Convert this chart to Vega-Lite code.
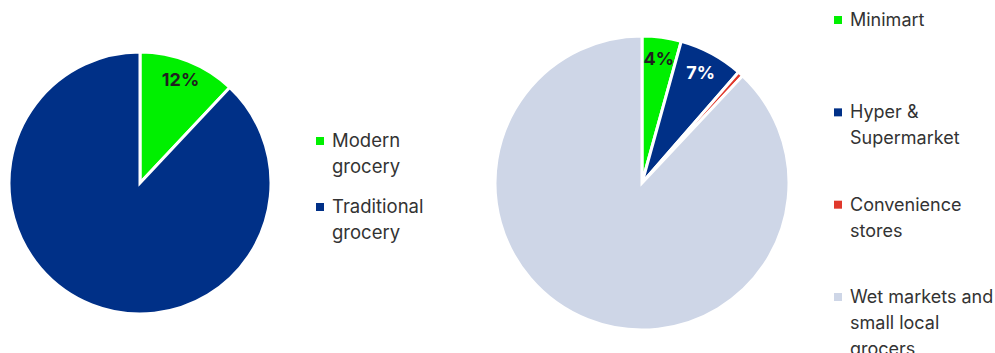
{
  "$schema": "https://vega.github.io/schema/vega-lite/v6.json",
  "padding": 0,
  "spacing": 40,
  "bounds": "flush",
  "background": "white",
  "config": {"view": {"stroke": null}, "font": "Inter"},
  "datasets": {
    "left": [
      {"cat": "Modern grocery", "label": "Modern\ngrocery", "share": 12, "k": 1, "pct": "12%"},
      {"cat": "Traditional grocery", "label": "Traditional\ngrocery", "share": 88, "k": 2, "pct": ""}
    ],
    "right": [
      {"cat": "Minimart", "label": "Minimart", "share": 4.3, "k": 1, "pct": "4%"},
      {"cat": "Hyper & Supermarket", "label": "Hyper &\nSupermarket", "share": 7.1, "k": 2, "pct": "7%"},
      {"cat": "Convenience stores", "label": "Convenience\nstores", "share": 0.6, "k": 3, "pct": ""},
      {"cat": "Wet markets and small local grocers", "label": "Wet markets and\nsmall local\ngrocers", "share": 88.0, "k": 4, "pct": ""}
    ]
  },
  "resolve": {"scale": {"color": "independent", "x": "independent", "y": "independent", "theta": "independent"}},
  "hconcat": [
    {
      "width": 280, "height": 366,
      "data": {"name": "left"},
      "layer": [
        {
          "mark": {"type": "arc", "radius": 131, "stroke": "white", "strokeWidth": 3},
          "encoding": {
            "theta": {"field": "share", "type": "quantitative", "stack": true},
            "order": {"field": "k", "type": "quantitative"},
            "color": {"field": "cat", "type": "nominal", "legend": null,
              "scale": {"domain": ["Modern grocery", "Traditional grocery"], "range": ["#00F000", "#003087"]}}
          }
        },
        {
          "mark": {"type": "text", "radius": 110, "fontSize": 18, "fontWeight": "bold"},
          "encoding": {
            "theta": {"field": "share", "type": "quantitative", "stack": true},
            "order": {"field": "k", "type": "quantitative"},
            "text": {"field": "pct", "type": "nominal"},
            "color": {"value": "#1f1f1f"}
          }
        }
      ]
    },
    {
      "width": 126, "height": 366,
      "data": {"name": "left"},
      "layer": [
        {
          "mark": {"type": "square", "size": 64, "opacity": 1},
          "encoding": {
            "x": {"datum": 0, "type": "quantitative", "scale": {"domain": [0, 1]}, "axis": null},
            "y": {"field": "cat", "type": "nominal", "sort": ["Modern grocery", "Traditional grocery"], "scale": {"type": "point", "padding": 0, "range": [141, 207]}, "axis": null},
            "color": {"field": "cat", "type": "nominal", "legend": null,
              "scale": {"domain": ["Modern grocery", "Traditional grocery"], "range": ["#00F000", "#003087"]}}
          }
        },
        {
          "mark": {"type": "text", "align": "left", "baseline": "alphabetic", "dx": 12, "dy": 6, "lineBreak": "\n", "lineHeight": 26, "fontSize": 18.5, "color": "#333333"},
          "encoding": {
            "x": {"datum": 0, "type": "quantitative", "scale": {"domain": [0, 1]}, "axis": null},
            "y": {"field": "cat", "type": "nominal", "sort": ["Modern grocery", "Traditional grocery"], "scale": {"type": "point", "padding": 0, "range": [141, 207]}, "axis": null},
            "text": {"field": "label", "type": "nominal"}
          }
        }
      ]
    },
    {
      "width": 312, "height": 366,
      "data": {"name": "right"},
      "layer": [
        {
          "mark": {"type": "arc", "radius": 147, "stroke": "white", "strokeWidth": 3},
          "encoding": {
            "theta": {"field": "share", "type": "quantitative", "stack": true},
            "order": {"field": "k", "type": "quantitative"},
            "color": {"field": "cat", "type": "nominal", "legend": null,
              "scale": {"domain": ["Minimart", "Hyper & Supermarket", "Convenience stores", "Wet markets and small local grocers"], "range": ["#00F000", "#003087", "#E0382C", "#CED6E7"]}}
          }
        },
        {
          "mark": {"type": "text", "radius": 124, "fontSize": 18, "fontWeight": "bold"},
          "encoding": {
            "theta": {"field": "share", "type": "quantitative", "stack": true},
            "order": {"field": "k", "type": "quantitative"},
            "text": {"field": "pct", "type": "nominal"},
            "color": {"condition": {"test": "datum.cat === 'Hyper & Supermarket'", "value": "white"}, "value": "#1f1f1f"}
          }
        }
      ]
    },
    {
      "width": 160, "height": 366,
      "data": {"name": "right"},
      "layer": [
        {
          "mark": {"type": "square", "size": 64, "opacity": 1},
          "encoding": {
            "x": {"datum": 0, "type": "quantitative", "scale": {"domain": [0, 1]}, "axis": null},
            "y": {"field": "cat", "type": "nominal", "sort": ["Minimart", "Hyper & Supermarket", "Convenience stores", "Wet markets and small local grocers"], "scale": {"type": "point", "padding": 0.482, "align": 0.225}, "axis": null},
            "color": {"field": "cat", "type": "nominal", "legend": null,
              "scale": {"domain": ["Minimart", "Hyper & Supermarket", "Convenience stores", "Wet markets and small local grocers"], "range": ["#00F000", "#003087", "#E0382C", "#CED6E7"]}}
          }
        },
        {
          "mark": {"type": "text", "align": "left", "baseline": "alphabetic", "dx": 12, "dy": 6, "lineBreak": "\n", "lineHeight": 26, "fontSize": 18, "color": "#333333"},
          "encoding": {
            "x": {"datum": 0, "type": "quantitative", "scale": {"domain": [0, 1]}, "axis": null},
            "y": {"field": "cat", "type": "nominal", "sort": ["Minimart", "Hyper & Supermarket", "Convenience stores", "Wet markets and small local grocers"], "scale": {"type": "point", "padding": 0.482, "align": 0.225}, "axis": null},
            "text": {"field": "label", "type": "nominal"}
          }
        }
      ]
    }
  ]
}
